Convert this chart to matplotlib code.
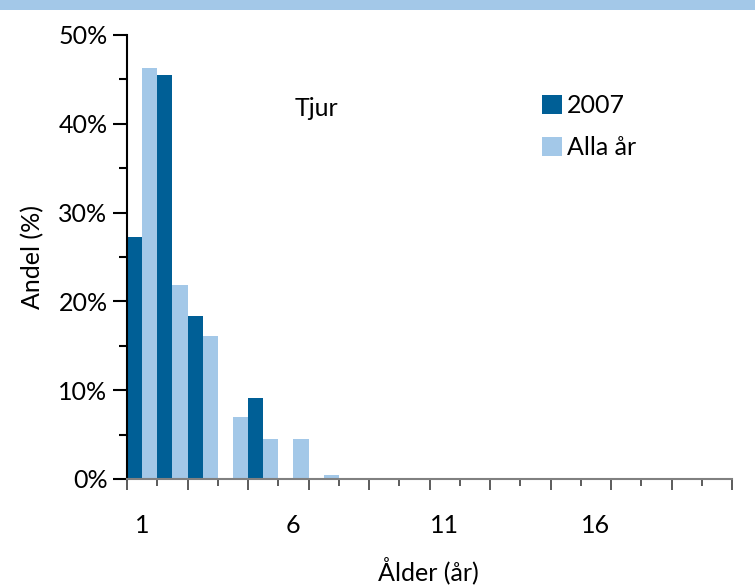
import matplotlib
matplotlib.use("Agg")
import matplotlib.pyplot as plt
import numpy as np
from matplotlib.patches import Rectangle

categories = list(range(1, 21))
series_2007 = [27.2, 45.5, 18.3, 0, 9.1, 0, 0, 0, 0, 0, 0, 0, 0, 0, 0, 0, 0, 0, 0, 0]
series_alla = [46.3, 21.9, 16.1, 7.0, 4.5, 4.5, 0.5, 0, 0, 0, 0, 0, 0, 0, 0, 0, 0, 0, 0, 0]
ytick_vals = [0, 10, 20, 30, 40, 50]
xtick_labels = ["1", "6", "11", "16"]

DARK = "#005f96"
LIGHT = "#a3c8e8"
FS = 18
plt.rcParams['font.family'] = ['Lato', 'DejaVu Sans']

fig = plt.figure(figsize=(7.55, 5.88), dpi=100)
fig.patches.append(Rectangle((0, 1 - 10/588), 1, 10/588, transform=fig.transFigure,
                             facecolor=LIGHT, edgecolor='none'))
ax = fig.add_axes([127/755, 1 - 479/588, (732 - 127)/755, (479 - 35)/588])

x = np.arange(len(categories))
w = 0.5
ax.bar(x - w/2, series_2007, width=w, color=DARK, label="2007", zorder=2)
ax.bar(x + w/2, series_alla, width=w, color=LIGHT, label="Alla år", zorder=2)

ax.set_xlim(-0.5, len(categories) - 0.5)
ax.set_ylim(0, 50)

for s in ['top', 'right']:
    ax.spines[s].set_visible(False)
ax.spines['left'].set_color('black')
ax.spines['left'].set_linewidth(1.5)
ax.spines['bottom'].set_color('#808080')
ax.spines['bottom'].set_linewidth(1.5)

ax.set_yticks(ytick_vals)
ax.set_yticklabels([f"{v}%" for v in ytick_vals])
ax.set_yticks(np.arange(5, 50, 10), minor=True)
ax.tick_params(axis='y', which='major', length=10, width=1.5, labelsize=FS, pad=4)
ax.tick_params(axis='y', which='minor', length=6, width=1.5)

# x ticks: boundaries, alternating long/short; labels at category centers
bounds = np.arange(-0.5, len(categories), 1.0)
ax.set_xticks(bounds[::2])
ax.set_xticks(bounds[1::2], minor=True)
ax.set_xticklabels([])
ax.tick_params(axis='x', which='major', length=8, width=1.2, color='#404040')
ax.tick_params(axis='x', which='minor', length=5, width=1.2, color='#404040')
label_idx = [categories.index(int(t)) for t in xtick_labels]
for i, t in zip(label_idx, xtick_labels):
    ax.text(i, -5.2, t, ha='center', va='center', fontsize=FS)

ax.set_ylabel("Andel (%)", fontsize=FS, labelpad=10)
ax.text(9.45, -10.3, "Ålder (år)", ha='center', va='center', fontsize=FS)

ax.text(5.75, 41.7, "Tjur", ha='center', va='center', fontsize=FS)

leg = ax.legend(loc='upper left', bbox_to_anchor=(405/605, 1 - 49/444), frameon=False,
                fontsize=FS, handlelength=0.8, handleheight=0.8, handletextpad=0.2,
                labelspacing=0.75, borderaxespad=0)

fig.savefig("out.png", dpi=100)
